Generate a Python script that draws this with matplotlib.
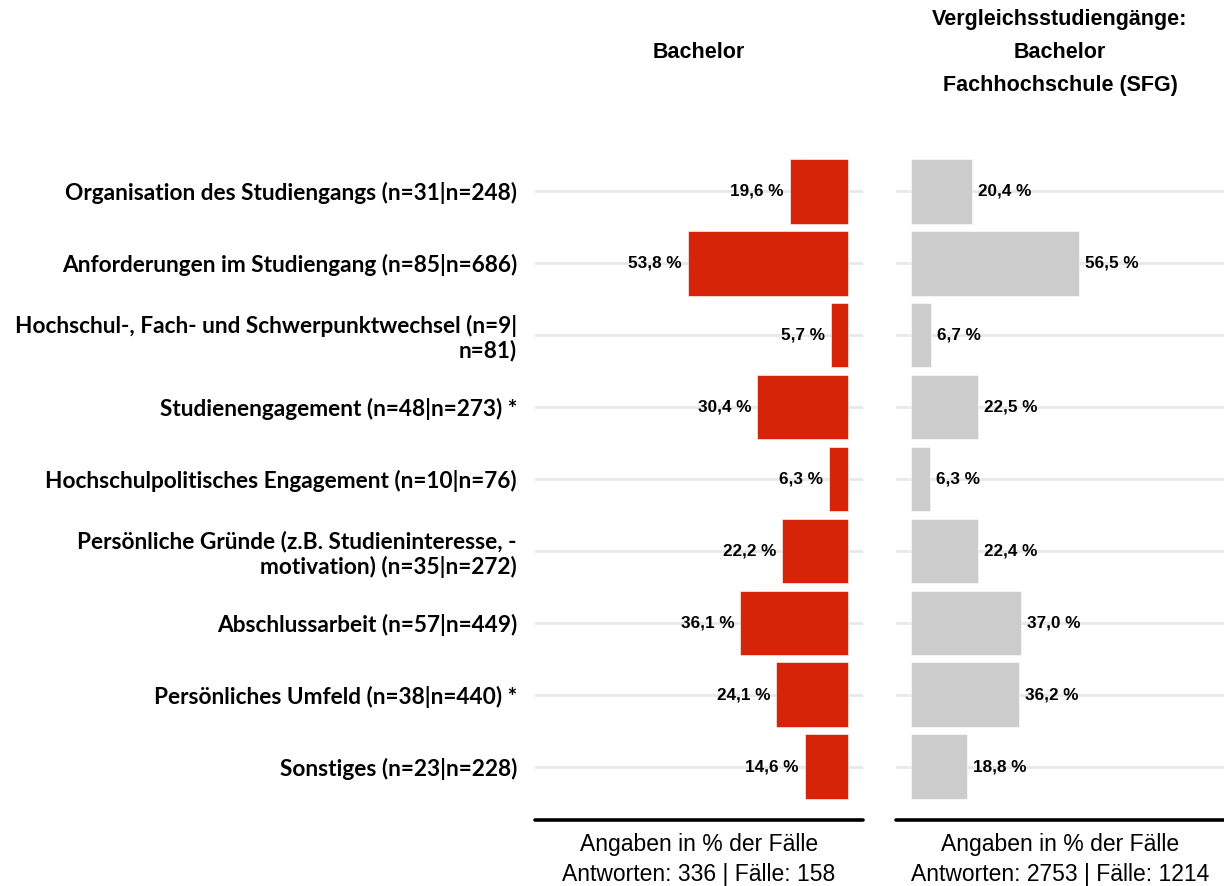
#!/usr/bin/env python3
"""Gruende fuer Studienverzoegerung: Bachelor vs. Vergleichsstudiengaenge."""

import matplotlib
matplotlib.use('Agg')
import matplotlib.pyplot as plt
import numpy as np

# Data
categories = [
    'Organisation des Studiengangs (n=31|n=248)',
    'Anforderungen im Studiengang (n=85|n=686)',
    'Hochschul-, Fach- und Schwerpunktwechsel (n=9|\nn=81)',
    'Studienengagement (n=48|n=273) *',
    'Hochschulpolitisches Engagement (n=10|n=76)',
    'Persönliche Gründe (z.B. Studieninteresse, -\nmotivation) (n=35|n=272)',
    'Abschlussarbeit (n=57|n=449)',
    'Persönliches Umfeld (n=38|n=440) *',
    'Sonstiges (n=23|n=228)',
]
bachelor = [19.6, 53.8, 5.7, 30.4, 6.3, 22.2, 36.1, 24.1, 14.6]
sfg = [20.4, 56.5, 6.7, 22.5, 6.3, 22.4, 37.0, 36.2, 18.8]

title_left = 'Bachelor'
title_right = 'Vergleichsstudiengänge:\nBachelor\nFachhochschule (SFG)'
xlabel_left = 'Angaben in % der Fälle\nAntworten: 336 | Fälle: 158'
xlabel_right = 'Angaben in % der Fälle\nAntworten: 2753 | Fälle: 1214'

RED = '#D62408'
GREY = '#CCCCCC'
GRID = '#E8E8E8'

W, H = 1224, 886
fig = plt.figure(figsize=(W / 100, H / 100), dpi=100)


def px_axes(x0, x1, y0, y1):
    return fig.add_axes([x0 / W, 1 - y1 / H, (x1 - x0) / W, (y1 - y0) / H])


ax1 = px_axes(535, 863, 138, 820)
ax2 = px_axes(896, 1224, 138, 820)

y = np.arange(len(categories))


def fmt(v):
    return f'{v:.1f} %'.replace('.', ',')


for ax, vals, color, side in [(ax1, bachelor, RED, -1), (ax2, sfg, GREY, 1)]:
    ax.barh(y, vals, height=0.9, color=color, edgecolor='white', linewidth=0.4, zorder=2)
    for yi, v in zip(y, vals):
        ax.annotate(fmt(v), xy=(v, yi), xytext=(side * 4.2, 0), textcoords='offset points',
                    ha='left' if side > 0 else 'right', va='center',
                    fontsize=12.3, fontweight='bold', family='Liberation Sans', zorder=3)
    ax.set_ylim(len(categories) - 1 + 0.74, -0.74)
    ax.set_yticks(y)
    ax.grid(axis='y', color=GRID, linewidth=2, zorder=0)
    ax.set_xticks([])
    for s in ['top', 'left', 'right']:
        ax.spines[s].set_visible(False)
    ax.spines['bottom'].set_linewidth(2.6)
    ax.spines['bottom'].set_capstyle('round')
    ax.tick_params(axis='y', length=0)

ax1.set_xlim(105, -5)
ax2.set_xlim(-5, 105)

ax1.set_yticklabels(categories, fontsize=16.3, fontweight='bold', family='Lato',
                    linespacing=1.15)
ax1.tick_params(axis='y', pad=13)
ax2.set_yticklabels([])

for ax, lab in [(ax1, xlabel_left), (ax2, xlabel_right)]:
    ax.set_xlabel(lab, fontsize=16.5, family='Liberation Sans', linespacing=1.4, labelpad=9)

fig.text(699 / W, 1 - 52 / H, title_left, ha='center', va='center', fontsize=15.5,
         fontweight='bold', family='Liberation Sans')
fig.text(1060 / W, 1 - 53 / H, title_right, ha='center', va='center', fontsize=15.5,
         fontweight='bold', family='Liberation Sans', linespacing=1.75, multialignment='center')

plt.savefig('out.png', dpi=100)
print('Saved: out.png')
